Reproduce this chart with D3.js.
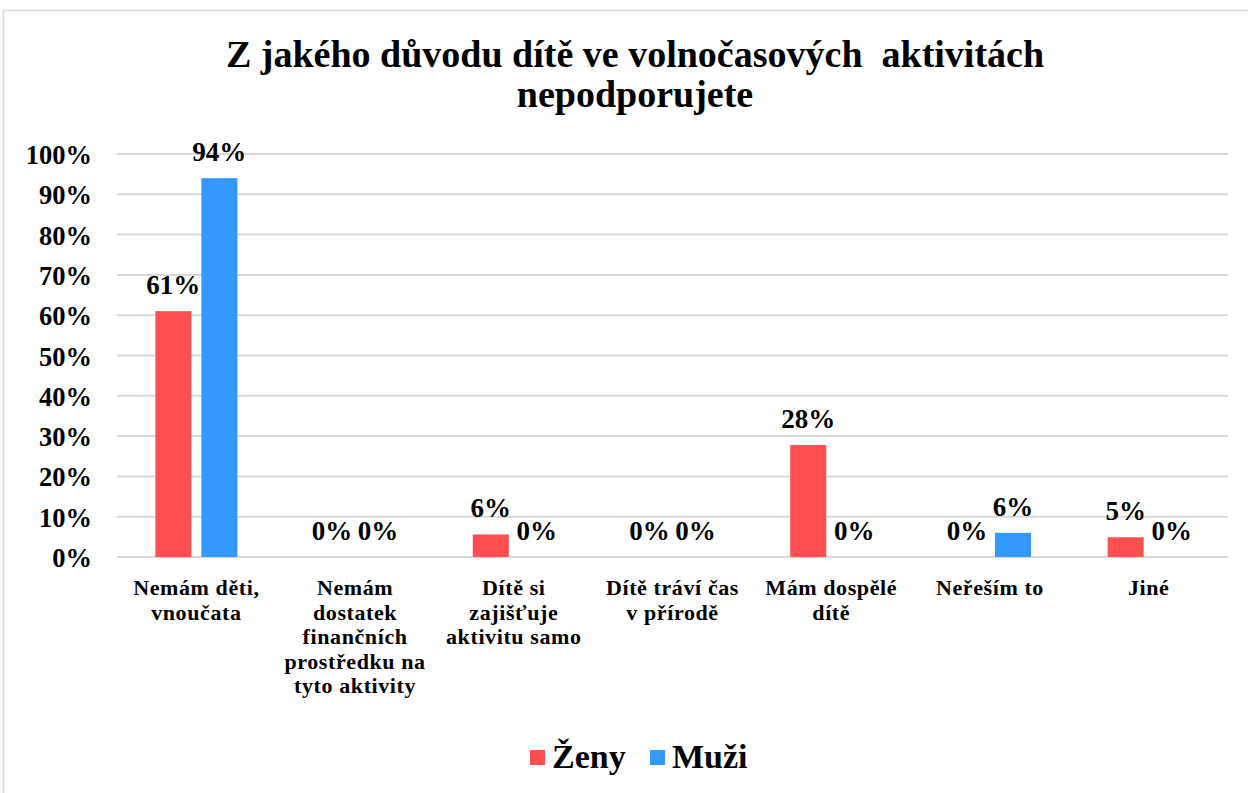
<!DOCTYPE html>
<html lang="cs">
<head>
<meta charset="UTF-8">
<title>Z jakého důvodu dítě ve volnočasových aktivitách nepodporujete</title>
<script src="https://d3js.org/d3.v7.min.js"></script>
<style>
    body { margin: 0; background: #fff; }
    svg text { font-family: "Liberation Serif", "Times New Roman", serif; font-weight: bold; fill: #000; }
    .grid line { stroke: #d9d9d9; stroke-width: 2px; }
    .axis path, .axis line { display: none; }
</style>
</head>
<body>
<svg id="chart" width="1248" height="793"></svg>
<script>
    // data
    let categories = [
        "Nemám děti,\nvnoučata",
        "Nemám\ndostatek\nfinančních\nprostředku na\ntyto aktivity",
        "Dítě si\nzajišťuje\naktivitu samo",
        "Dítě tráví čas\nv přírodě",
        "Mám dospělé\ndítě",
        "Neřeším to",
        "Jiné"
    ]
    let zeny = [61, 0, 5.6, 0, 27.8, 0, 4.9]
    let muzi = [94, 0, 0, 0, 0, 6, 0]
    let seriesNames = ["Ženy", "Muži"]
    let colors = ["#ff5050", "#3399ff"]
    let yTicks = [0, 10, 20, 30, 40, 50, 60, 70, 80, 90, 100]
    let titleLines = ["Z jakého důvodu dítě ve volnočasových  aktivitách", "nepodporujete"]

    let svg = d3.select("#chart")
    let plot = { left: 117, right: 1228, top: 154, bottom: 557 }

    // outer frame (right and bottom edges fall outside the picture)
    svg.append("rect")
        .attr("x", 3.5).attr("y", 10.5)
        .attr("width", 1260).attr("height", 800)
        .attr("fill", "#fff").attr("stroke", "#d9d9d9").attr("stroke-width", 1.5)

    // title
    let title = svg.append("text")
        .attr("text-anchor", "middle")
        .style("font-size", "38px")
    title.selectAll("tspan").data(titleLines).enter().append("tspan")
        .attr("x", 635)
        .attr("y", (d, i) => 67 + i * 40)
        .style("white-space", "pre")
        .text(d => d)

    let x0 = d3.scaleBand().domain(d3.range(categories.length))
        .range([plot.left, plot.right])
    let x1 = d3.scaleBand().domain([0, 1]).range([0, x0.bandwidth()])
        .paddingInner(0.217).paddingOuter(0.833)
    let y = d3.scaleLinear().domain([0, 100]).range([plot.bottom, plot.top])

    // gridlines
    svg.append("g").attr("class", "grid")
        .selectAll("line").data(yTicks).enter().append("line")
        .attr("x1", plot.left).attr("x2", plot.right)
        .attr("y1", d => y(d)).attr("y2", d => y(d))

    // y axis labels
    let yAxis = d3.axisLeft(y).tickValues(yTicks).tickFormat(d => d + "%").tickSize(0).tickPadding(0)
    svg.append("g").attr("class", "axis")
        .attr("transform", "translate(92,0)")
        .call(yAxis)
        .selectAll("text").style("font-size", "26.5px").attr("dy", "0.36em")

    // x axis labels
    let xAxis = d3.axisBottom(x0).tickSize(0).tickFormat("")
    let xg = svg.append("g").attr("class", "axis")
        .attr("transform", "translate(0," + plot.bottom + ")")
        .call(xAxis)
    xg.selectAll(".tick").append("text")
        .attr("text-anchor", "middle")
        .style("font-size", "22px")
        .style("letter-spacing", "0.6px")
        .each(function (d) {
            let lines = categories[d].split("\n")
            d3.select(this).selectAll("tspan").data(lines).enter().append("tspan")
                .attr("x", 0)
                .attr("y", (l, i) => 38 + i * 24.5)
                .text(l => l)
        })

    // bars and value labels
    let series = [zeny, muzi]
    let groups = svg.append("g")
    series.forEach(function (vals, s) {
        groups.selectAll(".bar" + s).data(vals).enter().append("rect")
            .attr("class", "bar" + s)
            .attr("x", (d, i) => x0(i) + x1(s))
            .attr("width", x1.bandwidth())
            .attr("y", d => y(d))
            .attr("height", d => y(0) - y(d))
            .attr("fill", colors[s])
        groups.selectAll(".lab" + s).data(vals).enter().append("text")
            .attr("class", "lab" + s)
            .attr("text-anchor", "middle")
            .attr("x", (d, i) => x0(i) + x1(s) + x1.bandwidth() / 2)
            .attr("y", d => y(d) - 17)
            .style("font-size", "27px")
            .text(d => Math.round(d) + "%")
    })

    // legend
    let legend = svg.append("g").attr("transform", "translate(530,0)")
    let lx = [0, 120]
    seriesNames.forEach(function (name, i) {
        legend.append("rect")
            .attr("x", lx[i]).attr("y", 750)
            .attr("width", 15).attr("height", 15)
            .attr("fill", colors[i])
        legend.append("text")
            .attr("x", lx[i] + 22).attr("y", 768)
            .style("font-size", "34px")
            .text(name)
    })
</script>
</body>
</html>
